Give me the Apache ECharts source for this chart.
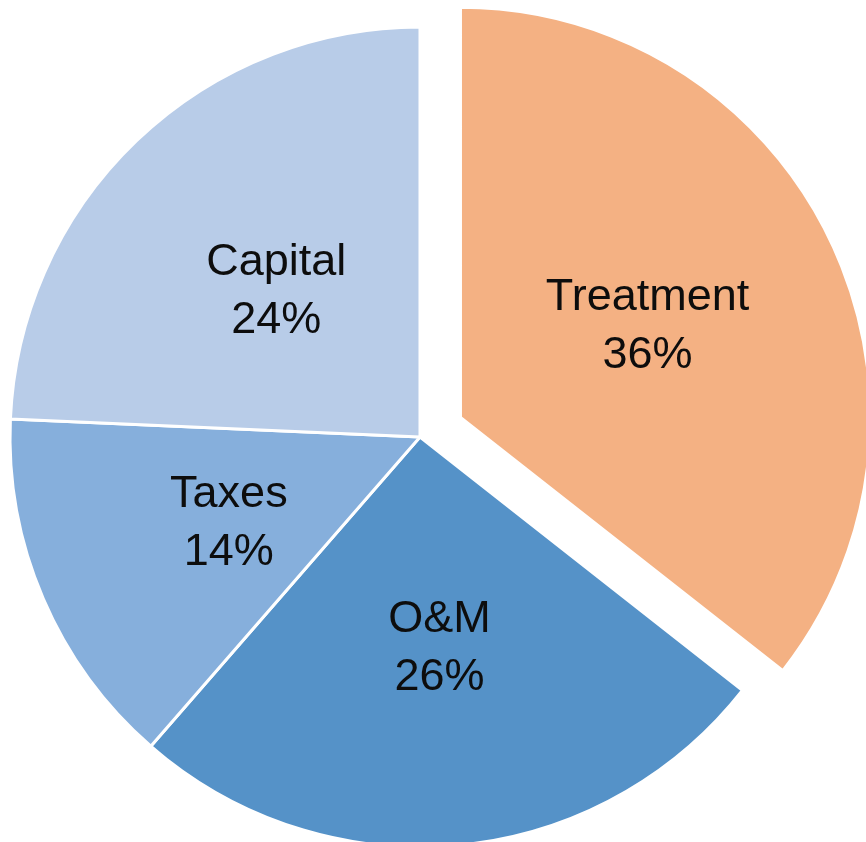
<!DOCTYPE html>
<html>
<head>
<meta charset="utf-8">
<script src="https://cdn.jsdelivr.net/npm/echarts@6/dist/echarts.min.js"></script>
<style>
html,body{margin:0;padding:0;background:#fff;}
#chart{width:866px;height:842px;}
</style>
</head>
<body>
<div id="chart"></div>
<script>
const categories = ['Treatment', 'O&M', 'Taxes', 'Capital'];
const values = [35.6, 25.8, 14.3, 24.3];
const colors = ['#F4B183', '#5592C8', '#86AFDC', '#B8CCE8'];

const chart = echarts.init(document.getElementById('chart'), null, {renderer: 'canvas'});
chart.setOption({
  animation: false,
  series: [{
    type: 'pie',
    center: [420, 437],
    radius: 410,
    startAngle: 90,
    clockwise: true,
    selectedMode: 'single',
    selectedOffset: 45,
    avoidLabelOverlap: false,
    itemStyle: {borderColor: '#ffffff', borderWidth: 3},
    emphasis: {disabled: true},
    label: {
      show: true,
      position: 'inner',
      formatter: p => p.name + '\n' + Math.round(p.value) + '%',
      fontFamily: 'Liberation Sans',
      fontSize: 45,
      lineHeight: 58,
      color: '#0d0d0d',
      align: 'center',
      offset: [0, 5]
    },
    labelLine: {show: false},
    data: categories.map((c, i) => ({
      name: c,
      value: values[i],
      selected: i === 0,
      itemStyle: {color: colors[i]}
    }))
  }]
});
</script>
</body>
</html>
